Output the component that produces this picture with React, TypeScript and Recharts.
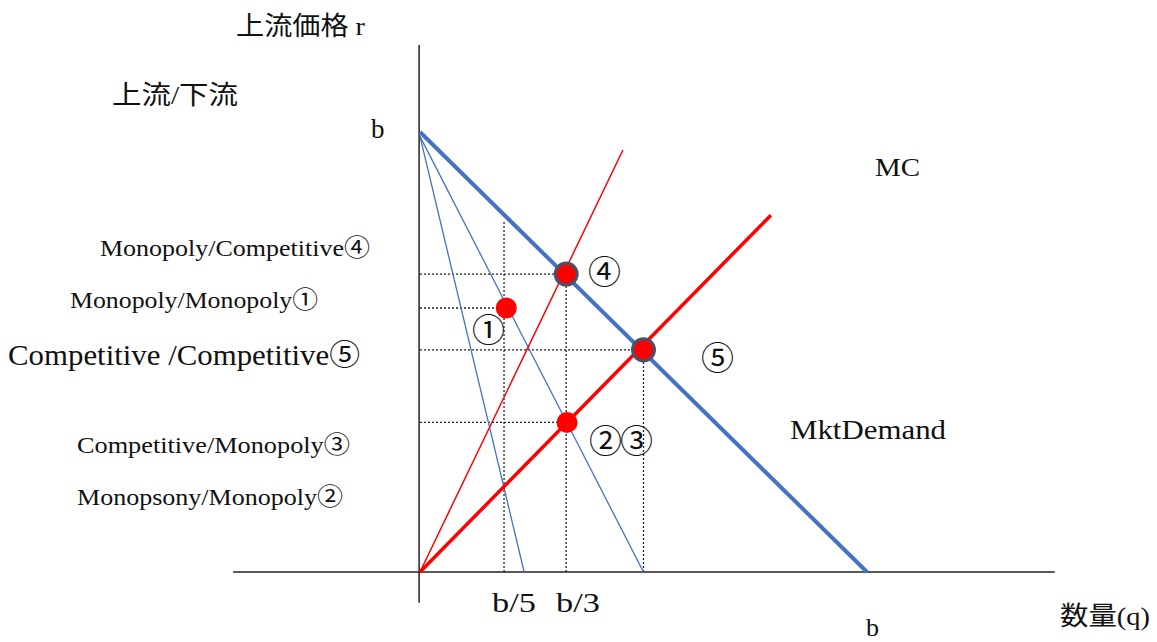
import { ComposedChart, Line, XAxis, YAxis, ReferenceLine, ReferenceDot } from 'recharts';

interface Pt {
    q: number;
    r: number;
}

// b = 1 on both axes
const demand: Pt[] = [{ q: 0, r: 1 }, { q: 1, r: 0 }];
const mrSteep: Pt[] = [{ q: 0, r: 0.99 }, { q: 0.233, r: 0 }];
const mrHalf: Pt[] = [{ q: 0, r: 0.99 }, { q: 0.5, r: 0 }];
const mc: Pt[] = [{ q: 0, r: 0 }, { q: 0.785, r: 0.811 }];
const mcSteep: Pt[] = [{ q: 0, r: 0 }, { q: 0.454, r: 0.959 }];

const pt4: Pt = { q: 0.327, r: 0.677 };
const pt5: Pt = { q: 0.5, r: 0.505 };
const pt1: Pt = { q: 0.193, r: 0.6 };
const pt23: Pt = { q: 0.329, r: 0.34 };

const bFifth = 0.188;
const bFifthTop = 0.8;

const xTickLabels = ['b/5', 'b/3'];
const caseLabels = [
    'Monopoly/Competitive④',
    'Monopoly/Monopoly①',
    'Competitive /Competitive⑤',
    'Competitive/Monopoly③',
    'Monopsony/Monopoly②',
];

const W = 1157;
const H = 642;
const X_DOMAIN = [-420 / 447, (W - 420) / 447];
const Y_DOMAIN = [-(H - 572) / 440, 572 / 440];

const BLUE = '#4472C4';
const RED = '#FF0000';
const FONT = "'Liberation Serif', 'Noto Sans CJK JP', serif";
const CIRCLE_FONT = "'Noto Sans CJK JP', sans-serif";

const dotted = { stroke: '#222', strokeDasharray: '2 2', strokeWidth: 1.3 };
const lineProps = { dataKey: 'r', type: 'linear' as const, dot: false, activeDot: false, isAnimationActive: false };

const T = ({ x, y, size, len, children }: { x: number; y: number; size: number; len?: number; children: string }) => (
    <text x={x} y={y} fontSize={size} textLength={len} lengthAdjust={len ? 'spacingAndGlyphs' : undefined}>{children}</text>
);

const C = ({ x, y, children }: { x: number; y: number; children: string }) => (
    <text x={x} y={y} fontSize={33} fontFamily={CIRCLE_FONT}>{children}</text>
);

const App = () => {
    return <div style={{ position: 'relative', width: W, height: H, background: '#fff' }}>
        <style>{'body{margin:0}'}</style>
        <ComposedChart width={W} height={H} margin={{ top: 0, right: 0, bottom: 0, left: 0 }}>
            <XAxis type="number" dataKey="q" domain={X_DOMAIN} hide allowDataOverflow />
            <YAxis type="number" dataKey="r" domain={Y_DOMAIN} hide allowDataOverflow />

            {/* axes */}
            <ReferenceLine segment={[{ x: -0.418, y: 0 }, { x: 1.42, y: 0 }]} stroke="#222" strokeWidth={1.5} />
            <ReferenceLine segment={[{ x: -0.002, y: -0.07 }, { x: -0.002, y: 1.198 }]} stroke="#222" strokeWidth={1.5} />

            {/* guides */}
            {[pt4, pt1, pt5, pt23].map((p, i) => (
                <ReferenceLine key={`h${i}`} segment={[{ x: 0, y: p.r }, { x: p.q, y: p.r }]} {...dotted} />
            ))}
            {[pt4, pt5].map((p, i) => (
                <ReferenceLine key={`v${i}`} segment={[{ x: p.q, y: 0 }, { x: p.q, y: p.r }]} {...dotted} />
            ))}
            <ReferenceLine segment={[{ x: bFifth, y: 0 }, { x: bFifth, y: bFifthTop }]} {...dotted} />

            <Line data={mrSteep} {...lineProps} stroke={BLUE} strokeWidth={1.3} />
            <Line data={mrHalf} {...lineProps} stroke={BLUE} strokeWidth={1.3} />
            <Line data={mcSteep} {...lineProps} stroke={RED} strokeWidth={1.5} />
            <Line data={mc} {...lineProps} stroke={RED} strokeWidth={3.5} />
            <Line data={demand} {...lineProps} stroke={BLUE} strokeWidth={4} />

            <ReferenceDot x={pt1.q} y={pt1.r} r={10.5} fill={RED} stroke="none" />
            <ReferenceDot x={pt23.q} y={pt23.r} r={10.5} fill={RED} stroke="none" />
            <ReferenceDot x={pt4.q} y={pt4.r} r={11} fill={RED} stroke="#44546A" strokeWidth={3} />
            <ReferenceDot x={pt5.q} y={pt5.r} r={11} fill={RED} stroke="#44546A" strokeWidth={3} />
        </ComposedChart>

        <svg width={W} height={H} style={{ position: 'absolute', left: 0, top: 0, pointerEvents: 'none' }}
            fontFamily={FONT} fill="#111">
            <T x={236} y={35} size={26} len={129}>上流価格 r</T>
            <T x={112} y={104} size={26} len={126}>上流/下流</T>
            <T x={371} y={138} size={27}>b</T>
            <T x={875} y={176} size={26} len={45}>MC</T>

            <T x={100} y={256} size={24} len={270}>{caseLabels[0]}</T>
            <T x={70} y={308} size={24} len={248}>{caseLabels[1]}</T>
            <T x={8} y={365} size={30} len={352}>{caseLabels[2]}</T>
            <T x={77} y={453} size={24} len={273}>{caseLabels[3]}</T>
            <T x={77} y={505} size={24} len={266}>{caseLabels[4]}</T>

            <C x={588} y={284}>④</C>
            <C x={472} y={342}>①</C>
            <C x={701} y={370}>⑤</C>
            <C x={589} y={453}>②</C>
            <C x={620} y={453}>③</C>

            <T x={790} y={439} size={28} len={156}>MktDemand</T>
            <T x={492} y={612} size={28} len={44}>{xTickLabels[0]}</T>
            <T x={556} y={612} size={28} len={44}>{xTickLabels[1]}</T>
            <T x={1060} y={625} size={26} len={90}>数量(q)</T>
            <T x={866} y={636} size={26}>b</T>
        </svg>
    </div>
}

export default App
